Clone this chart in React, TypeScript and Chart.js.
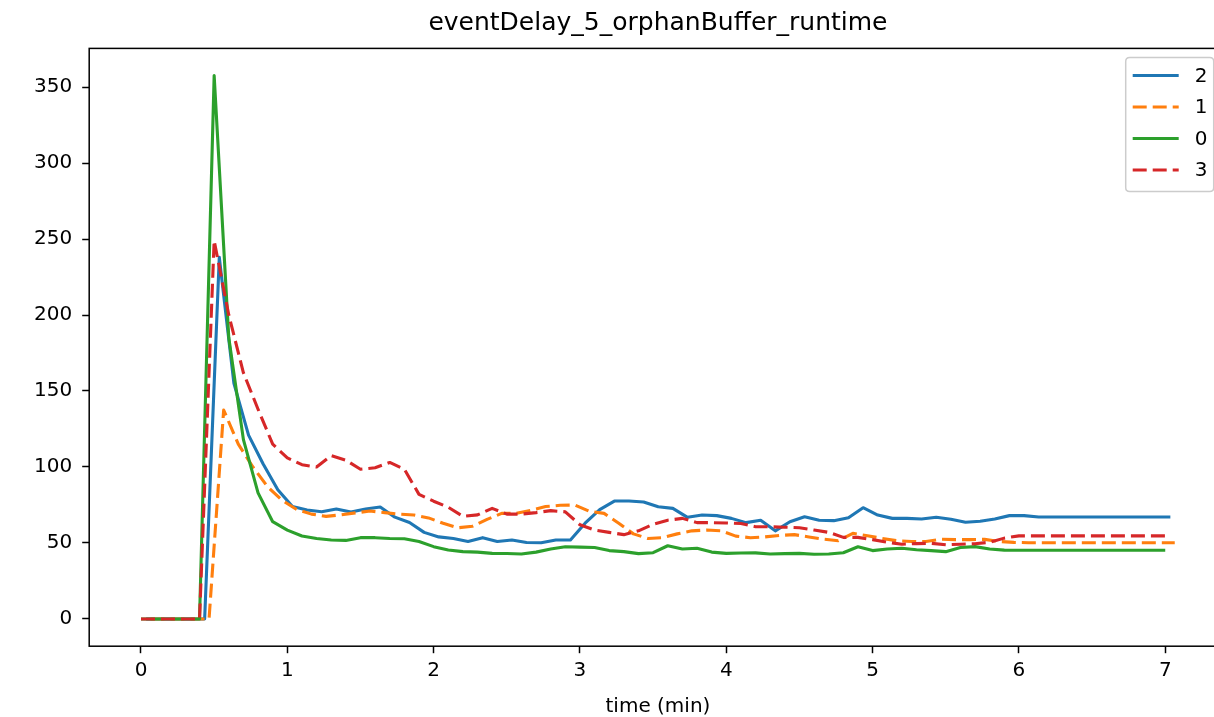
import React, { useEffect, useRef } from "react";
import { Chart, registerables } from "chart.js";

Chart.register(...registerables);

const chartTitle = "eventDelay_5_orphanBuffer_runtime";
const xTitle = "time (min)";

const times = [
  0.0, 0.1, 0.2, 0.3, 0.4, 0.5, 0.6, 0.7, 0.8, 0.9,
  1.0, 1.1, 1.2, 1.3, 1.4, 1.5, 1.6, 1.7, 1.8, 1.9,
  2.0, 2.1, 2.2, 2.3, 2.4, 2.5, 2.6, 2.7, 2.8, 2.9,
  3.0, 3.1, 3.2, 3.3, 3.4, 3.5, 3.6, 3.7, 3.8, 3.9,
  4.0, 4.1, 4.2, 4.3, 4.4, 4.5, 4.6, 4.7, 4.8, 4.9,
  5.0, 5.1, 5.2, 5.3, 5.4, 5.5, 5.6, 5.7, 5.8, 5.9,
  6.0, 6.1, 6.2, 6.3, 6.4, 6.5, 6.6, 6.7, 6.8, 6.9,
  7.0,
];

// per-series sampling offsets (minutes)
const shift2 = 0.035;
const shift1 = 0.065;
const shift0 = 0.0;
const shift3 = 0.0;

const series2 = [
  0, 0, 0, 0, 0, 238, 155, 121, 102, 85,
  74, 71.7, 70.6, 72.4, 70.4, 72.4, 73.7, 67, 63.5, 57,
  54, 53, 51, 53.5, 51, 52, 50.3, 50.2, 52, 52,
  63, 72, 77.6, 77.6, 77, 73.8, 72.8, 66.9, 68.4, 68,
  66.2, 63.4, 65, 58, 64, 67.3, 65, 64.7, 66.6, 73.2,
  68.4, 66.2, 66.2, 65.8, 66.9, 65.6, 63.6, 64.3, 65.8, 68,
  68, 67.1, 67.1, 67.1, 67.1, 67.1, 67.1, 67.1, 67.1, 67.1,
  67.1,
];

const series1 = [
  0, 0, 0, 0, 0, 137.5, 115, 100, 87, 78,
  72, 69, 67.5, 68.5, 69.8, 71, 70, 69, 68.4, 66.5,
  63, 60, 61, 65.5, 69.5, 69.5, 71.5, 74, 74.8, 75,
  70.8, 69.5, 63, 56, 53, 53.5, 56, 58, 58.5, 58,
  54.5, 53.5, 54, 55, 55.5, 54, 52.5, 51.5, 56.4, 54.8,
  53, 51.5, 51, 51, 52.5, 52.2, 52.2, 52.4, 51, 50.4,
  50.2, 50.2, 50.2, 50.2, 50.2, 50.2, 50.2, 50.2, 50.2, 50.2,
  50.2,
];

const series0 = [
  0, 0, 0, 0, 0, 357.5, 185, 118, 83, 64,
  58.5, 54.6, 53, 52, 51.7, 53.5, 53.5, 53, 52.8, 51,
  47.6, 45.4, 44.3, 44, 43.2, 43.1, 42.8, 44, 46, 47.5,
  47.3, 47, 45, 44.3, 43, 43.6, 48.2, 46, 46.5, 44,
  43.2, 43.4, 43.5, 42.8, 43, 43.2, 42.6, 42.8, 43.6, 47.5,
  45, 46, 46.5, 45.6, 45, 44.3, 47, 47.6, 46, 45.3,
  45.2, 45.2, 45.2, 45.2, 45.2, 45.2, 45.2, 45.2, 45.2, 45.2,
  45.2,
];

const series3 = [
  0, 0, 0, 0, 0, 249, 200, 162, 138, 115,
  106, 101.5, 100, 107.5, 104.5, 98.5, 99.5, 103, 98.5, 82,
  77.5, 73.5, 67.5, 68.5, 72.8, 69, 69, 70, 71.3, 70.5,
  62, 58.5, 57, 55.5, 58, 62.3, 65, 66.2, 63.4, 63.4,
  63.2, 62.8, 60.7, 60.7, 60.4, 60, 58.5, 57, 53.7, 53.7,
  52.2, 50.5, 49.2, 49.6, 49.8, 48.8, 49.2, 49.5, 50.5, 53.2,
  54.7, 54.7, 54.7, 54.7, 54.7, 54.7, 54.7, 54.7, 54.7, 54.7,
  54.7,
];

const xTicks = [0, 1, 2, 3, 4, 5, 6, 7];
const yTicks = [0, 50, 100, 150, 200, 250, 300, 350];

const FONT = "'DejaVu Sans', sans-serif";

const pts = (vals: number[], shift: number) =>
  vals.map((v, i) => ({ x: times[i] + shift, y: v }));

const framePlugin = {
  id: "frame",
  afterDatasetsDraw(chart: any) {
    const { ctx, chartArea } = chart;
    ctx.save();
    ctx.strokeStyle = "#000";
    ctx.lineWidth = 1.5;
    ctx.strokeRect(chartArea.left, chartArea.top, chartArea.right - chartArea.left, chartArea.bottom - chartArea.top);
    ctx.restore();
  },
};

const legendPlugin = {
  id: "mplLegend",
  afterDraw(chart: any) {
    const { ctx, chartArea } = chart;
    const ds = chart.data.datasets;
    const boxRight = chartArea.right - 13;
    const boxLeft = boxRight - 88;
    const boxTop = chartArea.top + 9;
    const rowH = 31.5;
    const boxH = 134;
    ctx.save();
    ctx.beginPath();
    const r = 4;
    const w = boxRight - boxLeft;
    ctx.moveTo(boxLeft + r, boxTop);
    ctx.lineTo(boxLeft + w - r, boxTop);
    ctx.quadraticCurveTo(boxLeft + w, boxTop, boxLeft + w, boxTop + r);
    ctx.lineTo(boxLeft + w, boxTop + boxH - r);
    ctx.quadraticCurveTo(boxLeft + w, boxTop + boxH, boxLeft + w - r, boxTop + boxH);
    ctx.lineTo(boxLeft + r, boxTop + boxH);
    ctx.quadraticCurveTo(boxLeft, boxTop + boxH, boxLeft, boxTop + boxH - r);
    ctx.lineTo(boxLeft, boxTop + r);
    ctx.quadraticCurveTo(boxLeft, boxTop, boxLeft + r, boxTop);
    ctx.closePath();
    ctx.fillStyle = "rgba(255,255,255,0.8)";
    ctx.fill();
    ctx.strokeStyle = "#cccccc";
    ctx.lineWidth = 1.5;
    ctx.stroke();
    ds.forEach((d: any, i: number) => {
      const y = boxTop + 18 + i * rowH;
      ctx.beginPath();
      ctx.setLineDash(d.borderDash || []);
      ctx.strokeStyle = d.borderColor;
      ctx.lineWidth = 3;
      ctx.moveTo(boxLeft + 7, y);
      ctx.lineTo(boxLeft + 53, y);
      ctx.stroke();
      ctx.setLineDash([]);
      ctx.fillStyle = "#000";
      ctx.font = `20px ${FONT}`;
      ctx.textBaseline = "middle";
      ctx.textAlign = "left";
      ctx.fillText(d.label, boxLeft + 69, y + 1);
    });
    ctx.restore();
  },
};

export default function App() {
  const ref = useRef<HTMLCanvasElement | null>(null);

  useEffect(() => {
    if (!ref.current) return;
    const common = {
      pointRadius: 0,
      borderWidth: 3.1,
      tension: 0,
      fill: false,
      borderJoinStyle: "round" as const,
    };
    const chart = new Chart(ref.current, {
      type: "line",
      data: {
        datasets: [
          { ...common, label: "2", data: pts(series2, shift2), borderColor: "#1f77b4", order: 3 },
          { ...common, label: "1", data: pts(series1, shift1), borderColor: "#ff7f0e", borderDash: [14, 6], order: 2 },
          { ...common, label: "0", data: pts(series0, shift0), borderColor: "#2ca02c", order: 1 },
          { ...common, label: "3", data: pts(series3, shift3), borderColor: "#d62728", borderDash: [14, 6], order: 0 },
        ],
      },
      options: {
        animation: false,
        responsive: false,
        events: [],
        layout: { padding: { left: 0, right: 13.3, top: 0, bottom: 0 } },
        plugins: {
          legend: { display: false },
          tooltip: { enabled: false },
          title: {
            display: true,
            text: chartTitle,
            fullSize: false,
            color: "#000",
            font: { family: FONT, size: 25, weight: "normal" },
            padding: { top: 8, bottom: 10.4 },
          },
        },
        scales: {
          x: {
            type: "linear",
            min: -0.354,
            max: 7.42,
            afterFit(scale: any) {
              scale.height = 70.8;
            },
            afterBuildTicks(scale: any) {
              scale.ticks = xTicks.map((v) => ({ value: v }));
            },
            grid: {
              display: true,
              drawOnChartArea: false,
              drawTicks: true,
              tickLength: 7,
              tickWidth: 1.5,
              tickColor: "#000",
            },
            border: { display: false },
            ticks: {
              color: "#000",
              font: { family: FONT, size: 20 },
              padding: 6,
              maxRotation: 0,
              autoSkip: false,
            },
            title: {
              display: true,
              text: xTitle,
              color: "#000",
              font: { family: FONT, size: 20, lineHeight: 1.05 },
              padding: { top: 0, bottom: 0 },
            },
          },
          y: {
            type: "linear",
            min: -17.9,
            max: 375.4,
            afterFit(scale: any) {
              scale.width = 89.2;
            },
            afterBuildTicks(scale: any) {
              scale.ticks = yTicks.map((v) => ({ value: v }));
            },
            grid: {
              display: true,
              drawOnChartArea: false,
              drawTicks: true,
              tickLength: 7,
              tickWidth: 1.5,
              tickColor: "#000",
            },
            border: { display: false },
            ticks: {
              color: "#000",
              font: { family: FONT, size: 20 },
              padding: 10,
              autoSkip: false,
            },
          },
        },
      },
      plugins: [framePlugin, legendPlugin],
    });
    return () => chart.destroy();
  }, []);

  return (
    <div style={{ position: "fixed", left: 0, top: 0, width: 1214, height: 717, overflow: "hidden", background: "#fff" }}>
      <canvas ref={ref} width={1240} height={717} style={{ display: "block", width: 1240, height: 717 }} />
    </div>
  );
}
